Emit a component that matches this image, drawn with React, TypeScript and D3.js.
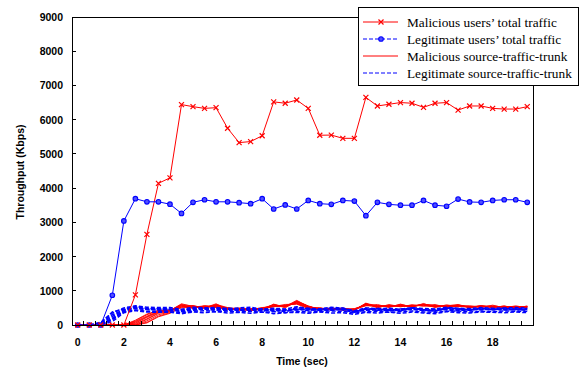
import React, { useEffect, useRef } from "react";
import * as d3 from "d3";

// time categories 0, 0.5, ... 19.5 sec
const times = [
  0, 0.5, 1, 1.5, 2, 2.5, 3, 3.5, 4, 4.5, 5, 5.5, 6, 6.5, 7, 7.5, 8, 8.5, 9, 9.5,
  10, 10.5, 11, 11.5, 12, 12.5, 13, 13.5, 14, 14.5, 15, 15.5, 16, 16.5, 17, 17.5, 18, 18.5, 19, 19.5,
];
const xTickLabels = [0, 2, 4, 6, 8, 10, 12, 14, 16, 18];
const yTicks = [0, 1000, 2000, 3000, 4000, 5000, 6000, 7000, 8000, 9000];

const maliciousTotal = [
  0, 0, 0, 0, 0, 880, 2650, 4140, 4300, 6440, 6380, 6330, 6350, 5750, 5330, 5360, 5530, 6520, 6480, 6575,
  6330, 5545, 5550, 5455, 5455, 6650, 6400, 6450, 6500, 6480, 6360, 6480, 6500, 6280, 6400, 6400, 6330, 6310, 6310, 6380,
];
const legitTotal = [
  0, 0, 0, 870, 3040, 3690, 3600, 3600, 3530, 3260, 3585, 3660, 3600, 3600, 3575, 3545, 3690, 3390, 3510, 3390,
  3640, 3545, 3525, 3640, 3620, 3195, 3585, 3525, 3500, 3500, 3640, 3500, 3470, 3680, 3595, 3585, 3640, 3660, 3660, 3585,
];

const maliciousTrunks = [
  [0, 0, 0, 0, 0, 40, 180, 360, 410, 600, 480, 560, 520, 450, 500, 420, 510, 540, 600, 610, 480, 510, 430, 500, 420, 640, 500, 600, 530, 590, 550, 600, 510, 590, 500, 570, 500, 560, 480, 560],
  [0, 0, 0, 0, 0, 120, 300, 420, 440, 520, 570, 480, 600, 510, 430, 480, 440, 610, 500, 700, 560, 440, 500, 430, 480, 560, 600, 510, 610, 520, 630, 510, 590, 530, 560, 510, 580, 500, 560, 500],
  [0, 0, 0, 0, 0, 0, 120, 300, 380, 580, 500, 540, 510, 470, 480, 460, 500, 530, 580, 620, 500, 490, 450, 480, 430, 620, 520, 570, 540, 580, 560, 530, 560, 600, 510, 560, 520, 550, 500, 540],
  [0, 0, 0, 0, 0, 60, 220, 380, 430, 540, 550, 500, 620, 460, 450, 430, 460, 600, 520, 680, 550, 450, 480, 450, 470, 580, 570, 530, 600, 530, 600, 570, 530, 540, 550, 530, 560, 520, 540, 520],
  [0, 0, 0, 0, 0, 0, 80, 260, 360, 500, 520, 560, 540, 490, 470, 470, 480, 550, 560, 630, 520, 480, 460, 440, 440, 610, 540, 560, 550, 560, 580, 540, 560, 570, 520, 550, 530, 540, 510, 530],
  [0, 0, 0, 0, 0, 100, 260, 400, 420, 620, 540, 500, 580, 470, 440, 440, 450, 580, 540, 720, 540, 460, 490, 470, 460, 590, 560, 540, 580, 540, 610, 560, 540, 560, 540, 540, 550, 530, 530, 540],
  [0, 0, 0, 0, 0, 20, 160, 340, 400, 560, 510, 530, 560, 500, 480, 450, 470, 560, 570, 660, 520, 470, 470, 460, 450, 600, 540, 560, 570, 550, 590, 550, 550, 560, 530, 540, 540, 530, 520, 530],
  [0, 0, 0, 0, 0, 140, 320, 430, 430, 590, 560, 510, 590, 480, 460, 460, 490, 590, 550, 690, 540, 480, 460, 470, 450, 630, 560, 540, 580, 560, 600, 550, 560, 570, 540, 550, 540, 540, 530, 540],
  [0, 0, 0, 0, 0, 0, 60, 240, 340, 530, 500, 550, 530, 490, 470, 440, 460, 540, 560, 640, 510, 470, 480, 450, 450, 570, 530, 550, 560, 550, 580, 540, 540, 550, 520, 530, 530, 520, 520, 520],
  [0, 0, 0, 0, 0, 80, 240, 390, 430, 570, 530, 520, 570, 470, 450, 450, 480, 580, 540, 670, 540, 460, 470, 460, 460, 610, 550, 560, 570, 550, 600, 560, 550, 570, 540, 550, 540, 540, 520, 540],
];

const legitTrunks = [
  [0, 0, 40, 300, 450, 520, 470, 480, 470, 410, 500, 460, 430, 490, 440, 470, 400, 460, 380, 480, 420, 460, 500, 440, 370, 490, 430, 460, 410, 500, 440, 400, 490, 470, 430, 480, 450, 490, 440, 460],
  [0, 0, 0, 150, 400, 480, 450, 440, 440, 390, 430, 480, 450, 420, 470, 430, 460, 400, 440, 450, 480, 420, 440, 470, 400, 430, 460, 410, 450, 470, 420, 460, 440, 410, 470, 440, 470, 450, 460, 430],
  [0, 0, 60, 380, 470, 540, 480, 470, 460, 440, 470, 500, 480, 460, 430, 490, 420, 470, 400, 510, 470, 430, 480, 500, 380, 460, 480, 430, 470, 490, 450, 420, 500, 480, 440, 490, 460, 480, 470, 480],
  [0, 0, 0, 100, 360, 420, 380, 370, 370, 330, 380, 360, 390, 350, 370, 340, 380, 330, 360, 370, 340, 380, 350, 360, 310, 370, 350, 380, 340, 380, 350, 330, 390, 360, 350, 380, 370, 360, 380, 360],
  [0, 0, 20, 250, 440, 500, 460, 460, 460, 400, 450, 480, 440, 470, 420, 460, 430, 460, 430, 460, 440, 470, 430, 470, 400, 440, 470, 420, 440, 460, 430, 450, 470, 440, 460, 450, 470, 440, 460, 450],
  [0, 0, 0, 200, 420, 520, 470, 450, 450, 420, 440, 470, 490, 450, 460, 440, 470, 420, 450, 440, 470, 430, 460, 450, 410, 460, 430, 450, 430, 470, 440, 410, 480, 450, 430, 470, 440, 470, 450, 450],
  [0, 0, 80, 350, 500, 560, 520, 510, 510, 460, 520, 500, 510, 480, 500, 520, 460, 490, 470, 530, 490, 470, 520, 490, 420, 500, 480, 490, 460, 510, 480, 470, 520, 490, 480, 510, 490, 500, 510, 490],
  [0, 0, 10, 180, 380, 440, 400, 400, 390, 360, 400, 420, 390, 410, 380, 400, 370, 390, 360, 400, 380, 390, 410, 400, 350, 390, 400, 370, 390, 410, 380, 370, 400, 410, 380, 400, 390, 410, 400, 400],
];

const legendItems = [
  "Malicious users\u2019 total traffic",
  "Legitimate users\u2019 total traffic",
  "Malicious source-traffic-trunk",
  "Legitimate source-traffic-trunk",
];

const RED = "#ff0000";
const BLUE = "#0000ff";

function TrafficChart() {
  const svgRef = useRef<SVGSVGElement>(null);

  useEffect(() => {
    const svg = d3.select(svgRef.current);
    svg.selectAll("*").remove();

    const left = 72, right = 533, top = 17, bottom = 325;
    const x = d3.scaleBand<number>().domain(times).range([left, right]);
    const cx = (t: number) => (x(t) as number) + x.bandwidth() / 2;
    const y = d3.scaleLinear().domain([0, 9000]).range([bottom, top]);
    const axisFont = "'Liberation Sans', Arial, sans-serif";

    svg.append("rect").attr("width", 581).attr("height", 367).attr("fill", "#fff");

    const line = d3
      .line<number>()
      .x((d, i) => cx(times[i]))
      .y((d) => y(d));

    // source trunks
    const g = svg.append("g");
    maliciousTrunks.forEach((s) => {
      g.append("path").attr("d", line(s)).attr("fill", "none").attr("stroke", RED).attr("stroke-width", 0.9);
    });
    legitTrunks.forEach((s) => {
      g.append("path")
        .attr("d", line(s))
        .attr("fill", "none")
        .attr("stroke", BLUE)
        .attr("stroke-width", 1.5)
        .attr("stroke-dasharray", "4 2");
    });

    // totals
    g.append("path").attr("d", line(maliciousTotal)).attr("fill", "none").attr("stroke", RED).attr("stroke-width", 1);
    g.append("path").attr("d", line(legitTotal)).attr("fill", "none").attr("stroke", BLUE).attr("stroke-width", 1);

    const cross = (sel: any, px: number, py: number) => {
      sel
        .append("path")
        .attr("d", `M${px - 2.5},${py - 2.5}L${px + 2.5},${py + 2.5}M${px - 2.5},${py + 2.5}L${px + 2.5},${py - 2.5}`)
        .attr("stroke", RED)
        .attr("stroke-width", 1.2)
        .attr("fill", "none");
    };
    const circle = (sel: any, px: number, py: number) => {
      sel
        .append("circle")
        .attr("cx", px)
        .attr("cy", py)
        .attr("r", 2.3)
        .attr("fill", "#5050ff")
        .attr("stroke", BLUE)
        .attr("stroke-width", 1.1);
    };
    legitTotal.forEach((v, i) => circle(g, cx(times[i]), y(v)));
    maliciousTotal.forEach((v, i) => cross(g, cx(times[i]), y(v)));

    // frame
    svg
      .append("rect")
      .attr("x", left)
      .attr("y", top)
      .attr("width", right - left)
      .attr("height", bottom - top)
      .attr("fill", "none")
      .attr("stroke", "#000")
      .attr("stroke-width", 1)
      .attr("shape-rendering", "crispEdges");

    // y ticks
    yTicks.forEach((v) => {
      svg
        .append("line")
        .attr("x1", left)
        .attr("x2", left + 4)
        .attr("y1", y(v))
        .attr("y2", y(v))
        .attr("stroke", "#000")
        .attr("shape-rendering", "crispEdges");
      svg
        .append("text")
        .attr("x", 63)
        .attr("y", y(v) + 4)
        .attr("text-anchor", "end")
        .attr("font-family", axisFont)
        .attr("font-weight", "bold")
        .attr("font-size", 10.5)
        .text(v);
    });

    // x ticks at category boundaries
    times.forEach((t, i) => {
      if (i === 0) return;
      const bx = x(t) as number;
      svg
        .append("line")
        .attr("x1", bx)
        .attr("x2", bx)
        .attr("y1", bottom)
        .attr("y2", bottom - 4)
        .attr("stroke", "#000")
        .attr("shape-rendering", "crispEdges");
    });
    xTickLabels.forEach((t) => {
      svg
        .append("text")
        .attr("x", cx(t))
        .attr("y", 346)
        .attr("text-anchor", "middle")
        .attr("font-family", axisFont)
        .attr("font-weight", "bold")
        .attr("font-size", 10.5)
        .text(t);
    });

    // axis titles
    svg
      .append("text")
      .attr("x", 302)
      .attr("y", 365)
      .attr("text-anchor", "middle")
      .attr("font-family", axisFont)
      .attr("font-weight", "bold")
      .attr("font-size", 10.5)
      .text("Time (sec)");
    svg
      .append("text")
      .attr("transform", "translate(24,172) rotate(-90)")
      .attr("text-anchor", "middle")
      .attr("font-family", axisFont)
      .attr("font-weight", "bold")
      .attr("font-size", 10.5)
      .text("Throughput (Kbps)");

    // legend
    const lg = svg.append("g");
    lg.append("rect")
      .attr("x", 358.5)
      .attr("y", 7.5)
      .attr("width", 220)
      .attr("height", 78)
      .attr("fill", "#fff")
      .attr("stroke", "#000")
      .attr("stroke-width", 1);
    legendItems.forEach((label, i) => {
      const ly = 22 + i * 17;
      const item = lg.append("g");
      const isRed = i % 2 === 0;
      item
        .append("line")
        .attr("x1", 363)
        .attr("x2", 398)
        .attr("y1", ly)
        .attr("y2", ly)
        .attr("stroke", isRed ? RED : BLUE)
        .attr("stroke-width", 1)
        .attr("stroke-dasharray", isRed ? null : "4 2");
      if (i === 0) cross(item, 381, ly);
      if (i === 1) circle(item, 381, ly);
      item
        .append("text")
        .attr("x", 407)
        .attr("y", ly + 4.5)
        .attr("font-family", "'Liberation Serif', 'Times New Roman', serif")
        .attr("font-size", 13.3)
        .text(label);
    });
  }, []);

  return (
    <svg
      ref={svgRef}
      width={581}
      height={367}
      style={{ position: "absolute", left: 0, top: 0, display: "block" }}
    />
  );
}

export default function App() {
  return <TrafficChart />;
}
